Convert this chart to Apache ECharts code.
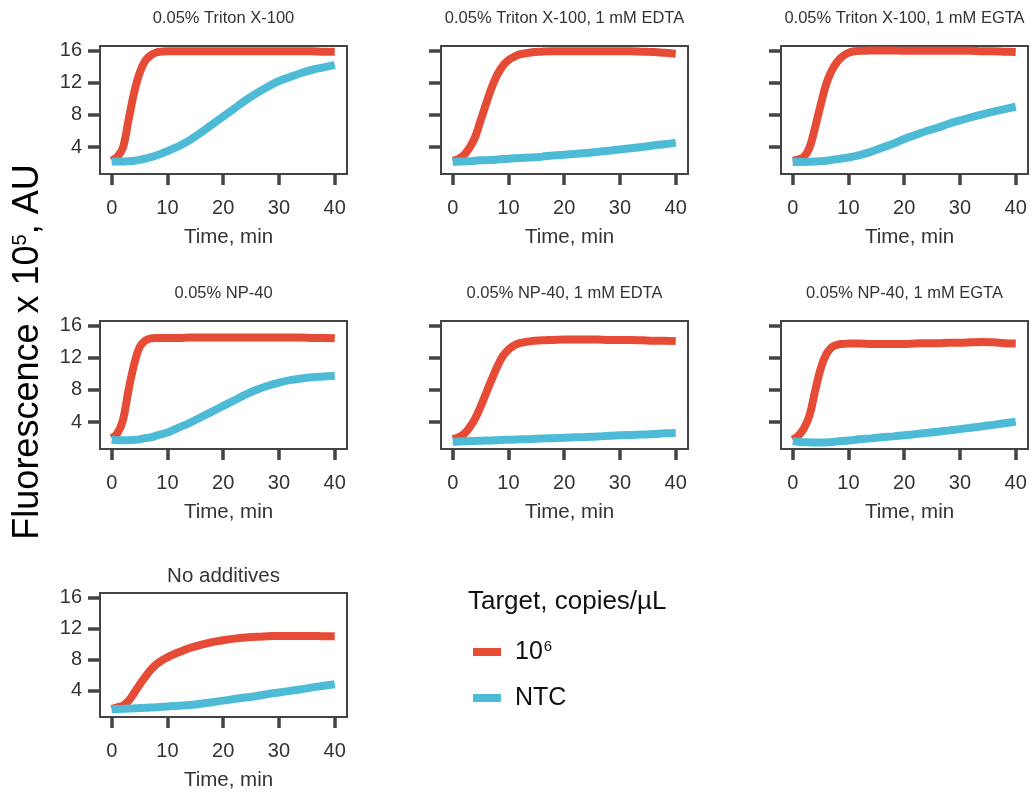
<!DOCTYPE html>
<html>
<head>
<meta charset="utf-8">
<script src="https://cdn.jsdelivr.net/npm/echarts@6/dist/echarts.min.js"></script>
<style>
  body{margin:0;background:#fff;}
  #chart{width:1031px;height:792px;}
</style>
</head>
<body>
<div id="chart"></div>
<script>
// time points (min)
var times = [0, 1, 2, 3, 4, 5, 6, 7, 8, 9, 10, 11, 12, 14, 16, 18, 20, 22, 24, 26, 28, 30, 32, 34, 36, 38, 40]

var panelTitles = [
  '0.05% Triton X-100',
  '0.05% Triton X-100, 1 mM EDTA',
  '0.05% Triton X-100, 1 mM EGTA',
  '0.05% NP-40',
  '0.05% NP-40, 1 mM EDTA',
  '0.05% NP-40, 1 mM EGTA',
  'No additives'
]

// fluorescence x 10^5, 10^6 copies/uL
var tritonTarget = [2.3, 2.8, 3.9, 7.3, 10.7, 13.2, 14.7, 15.4, 15.75, 15.85, 15.9, 15.9, 15.9, 15.9, 15.9, 15.9, 15.9, 15.9, 15.9, 15.9, 15.9, 15.9, 15.9, 15.9, 15.9, 15.85, 15.85]
var tritonEdtaTarget = [2.3, 2.5, 3.0, 3.9, 5.2, 7.3, 9.4, 11.4, 13.0, 14.1, 14.8, 15.2, 15.5, 15.75, 15.85, 15.9, 15.9, 15.9, 15.9, 15.9, 15.9, 15.9, 15.9, 15.85, 15.8, 15.7, 15.6]
var tritonEgtaTarget = [2.3, 2.45, 2.8, 3.9, 6.4, 9.2, 11.8, 13.5, 14.6, 15.3, 15.7, 15.9, 15.95, 16.0, 16.0, 16.0, 15.95, 15.95, 15.95, 15.95, 15.95, 15.95, 15.95, 15.9, 15.9, 15.85, 15.8]
var npTarget = [2.0, 2.6, 4.2, 7.9, 11.1, 13.3, 14.1, 14.4, 14.45, 14.45, 14.45, 14.45, 14.45, 14.5, 14.5, 14.5, 14.5, 14.5, 14.5, 14.5, 14.5, 14.5, 14.5, 14.5, 14.45, 14.45, 14.4]
var npEdtaTarget = [1.9, 2.1, 2.5, 3.3, 4.4, 5.9, 7.6, 9.3, 10.9, 12.2, 13.0, 13.5, 13.8, 14.05, 14.15, 14.2, 14.25, 14.25, 14.25, 14.25, 14.2, 14.2, 14.2, 14.15, 14.1, 14.1, 14.05]
var npEgtaTarget = [1.8, 2.3, 3.2, 4.8, 7.8, 10.6, 12.4, 13.3, 13.6, 13.7, 13.75, 13.75, 13.75, 13.7, 13.7, 13.7, 13.7, 13.75, 13.8, 13.8, 13.85, 13.85, 13.9, 13.95, 13.9, 13.8, 13.75]
var noAddTarget = [1.7, 1.9, 2.1, 2.7, 3.7, 4.8, 5.8, 6.7, 7.4, 7.9, 8.3, 8.65, 8.95, 9.5, 9.9, 10.25, 10.5, 10.7, 10.85, 10.95, 11.0, 11.05, 11.05, 11.05, 11.05, 11.0, 11.0]

// fluorescence x 10^5, NTC
var tritonNtc = [2.2, 2.2, 2.2, 2.25, 2.3, 2.4, 2.55, 2.75, 2.95, 3.2, 3.5, 3.8, 4.1, 4.85, 5.8, 6.8, 7.8, 8.8, 9.8, 10.7, 11.5, 12.2, 12.7, 13.2, 13.6, 13.9, 14.2]
var tritonEdtaNtc = [2.15, 2.2, 2.2, 2.25, 2.3, 2.35, 2.37, 2.4, 2.45, 2.5, 2.55, 2.6, 2.65, 2.7, 2.8, 2.95, 3.05, 3.15, 3.25, 3.4, 3.55, 3.7, 3.85, 4.0, 4.2, 4.35, 4.55]
var tritonEgtaNtc = [2.15, 2.15, 2.15, 2.17, 2.2, 2.25, 2.3, 2.4, 2.5, 2.6, 2.7, 2.85, 3.0, 3.4, 3.9, 4.4, 5.0, 5.5, 6.0, 6.4, 6.9, 7.3, 7.7, 8.05, 8.4, 8.7, 9.0]
var npNtc = [1.8, 1.75, 1.75, 1.75, 1.8, 1.85, 2.0, 2.1, 2.3, 2.5, 2.7, 3.0, 3.3, 3.9, 4.6, 5.3, 6.0, 6.7, 7.4, 8.0, 8.5, 8.9, 9.2, 9.4, 9.55, 9.65, 9.75]
var npEdtaNtc = [1.55, 1.57, 1.6, 1.62, 1.65, 1.67, 1.7, 1.72, 1.75, 1.77, 1.8, 1.82, 1.85, 1.9, 1.95, 2.0, 2.05, 2.1, 2.15, 2.2, 2.3, 2.35, 2.4, 2.45, 2.5, 2.6, 2.65]
var npEgtaNtc = [1.6, 1.55, 1.5, 1.47, 1.45, 1.45, 1.47, 1.5, 1.6, 1.65, 1.7, 1.78, 1.85, 1.97, 2.1, 2.22, 2.35, 2.5, 2.65, 2.8, 2.95, 3.12, 3.3, 3.47, 3.65, 3.85, 4.05]
var noAddNtc = [1.65, 1.67, 1.7, 1.73, 1.76, 1.8, 1.83, 1.87, 1.9, 1.95, 2.0, 2.05, 2.1, 2.2, 2.35, 2.55, 2.75, 2.95, 3.15, 3.35, 3.6, 3.8, 4.0, 4.2, 4.45, 4.65, 4.85]

var xTicks = [0, 10, 20, 30, 40]
var yTicks = [4, 8, 12, 16]
var seriesNames = ['1e6', 'NTC']

var panelData = [
  [tritonTarget, tritonNtc],
  [tritonEdtaTarget, tritonEdtaNtc],
  [tritonEgtaTarget, tritonEgtaNtc],
  [npTarget, npNtc],
  [npEdtaTarget, npEdtaNtc],
  [npEgtaTarget, npEgtaNtc],
  [noAddTarget, noAddNtc]
]

var colors = ['#E64B35', '#4DBBD5']
var axisColor = '#444'
var textColor = '#333'
var font = '"Liberation Sans", Arial, sans-serif'

var colLeft = [100, 441, 781]
var rowTop = [46, 321, 593]
var boxW = 247
var boxH = 128

var grids = []
var xAxes = []
var yAxes = []
var series = []
var titles = []

panelData.forEach(function (pair, i) {
  var col = i % 3
  var row = Math.floor(i / 3)
  grids.push({
    left: colLeft[col], top: rowTop[row], width: boxW, height: boxH,
    show: true, borderColor: axisColor, borderWidth: 2, containLabel: false
  })
  xAxes.push({
    gridIndex: i, type: 'value', min: -2.1, max: 42.2,
    name: 'Time, min', nameLocation: 'middle', nameGap: 53,
    nameTextStyle: { fontSize: 20.5, color: textColor, padding: [0, 0, 0, 10] },
    axisLine: { show: false, onZero: false },
    axisTick: { show: true, customValues: xTicks, length: 11, lineStyle: { color: axisColor, width: 3.5 } },
    axisLabel: { show: true, customValues: xTicks, margin: 24, fontSize: 20, color: textColor },
    splitLine: { show: false }
  })
  yAxes.push({
    gridIndex: i, type: 'value', min: 0.65, max: 16.55,
    axisLine: { show: false, onZero: false },
    axisTick: { show: true, customValues: yTicks, length: 12, lineStyle: { color: axisColor, width: 3.5 } },
    axisLabel: { show: col === 0, customValues: yTicks, margin: 18, fontSize: 20, color: textColor },
    splitLine: { show: false }
  })
  titles.push({
    text: panelTitles[i],
    left: colLeft[col] + boxW / 2,
    top: i === 6 ? rowTop[row] - 27 : rowTop[row] - 36,
    textAlign: 'center',
    padding: 0,
    textStyle: { fontSize: i === 6 ? 20.5 : 16.5, fontWeight: 'normal', color: textColor, fontFamily: font }
  })
  pair.forEach(function (vals, k) {
    series.push({
      name: seriesNames[k],
      type: 'line',
      xAxisIndex: i,
      yAxisIndex: i,
      data: times.map(function (t, j) { return [t, vals[j]] }),
      smooth: 0.4,
      showSymbol: false,
      itemStyle: { color: colors[k] },
      lineStyle: { color: colors[k], width: 8 }
    })
  })
})

titles.push({
  text: 'Target, copies/\u00b5L',
  left: 468, top: 589, padding: 0,
  textStyle: { fontSize: 26, fontWeight: 'normal', color: '#111', fontFamily: font }
})

var option = {
  animation: false,
  textStyle: { fontFamily: font },
  title: titles,
  grid: grids,
  xAxis: xAxes,
  yAxis: yAxes,
  legend: {
    data: seriesNames,
    orient: 'vertical',
    left: 473, top: 639,
    padding: 0,
    itemWidth: 28, itemHeight: 8,
    itemGap: 20,
    icon: 'rect',
    selectedMode: false,
    formatter: function (n) {
      return n === '1e6' ? '{a|10}{sup|6}' : '{a|NTC}'
    },
    textStyle: {
      fontSize: 25, color: '#111', lineHeight: 26,
      rich: {
        a: { fontSize: 25, color: '#111', padding: [0, 0, 0, 9] },
        sup: { fontSize: 15, color: '#111', lineHeight: 15, padding: [0, 0, 10, 1] }
      }
    }
  },
  graphic: [{
    type: 'text',
    x: 28, y: 352,
    rotation: Math.PI / 2,
    style: {
      text: 'Fluorescence x 10{sup|5}, AU',
      fontSize: 36, fontFamily: font, fill: '#000',
      align: 'center', verticalAlign: 'middle',
      rich: {
        sup: { fontSize: 20, fontFamily: font, fill: '#000', verticalAlign: 'top', lineHeight: 18 }
      }
    }
  }],
  series: series
}

var chart = echarts.init(document.getElementById('chart'))
chart.setOption(option)
</script>
</body>
</html>
